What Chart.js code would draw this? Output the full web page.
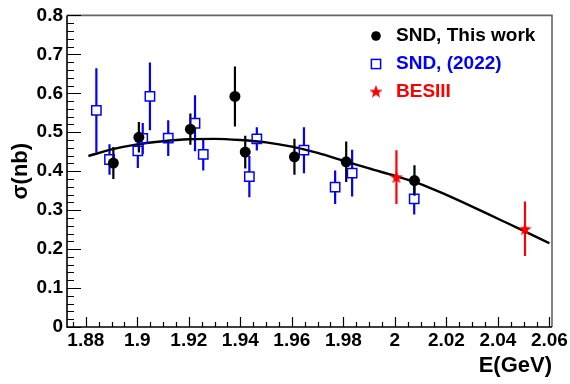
<!DOCTYPE html>
<html><head><meta charset="utf-8">
<script src="https://cdn.jsdelivr.net/npm/chart.js@4.4.1/dist/chart.umd.min.js"></script>
<style>html,body{margin:0;padding:0;background:#fff;}canvas{display:block;}</style>
</head><body>
<canvas id="c" width="570" height="384"></canvas>
<script>
// ---- data ----
const sndEnergy = [1.8907, 1.9006, 1.9206, 1.9379, 1.9419, 1.9610, 1.9811, 2.0076];
const sndSigma  = [0.421, 0.487, 0.508, 0.592, 0.449, 0.437, 0.424, 0.376];
const sndError  = [0.041, 0.039, 0.040, 0.077, 0.042, 0.046, 0.052, 0.039];

const snd22Energy = [1.8841, 1.8892, 1.9002, 1.9021, 1.9049, 1.9120, 1.9224, 1.9256, 1.9435, 1.9464, 1.9647, 1.9768, 1.9834, 2.0075];
const snd22Sigma  = [0.556, 0.430, 0.452, 0.484, 0.592, 0.485, 0.523, 0.443, 0.386, 0.483, 0.454, 0.359, 0.395, 0.329];
const snd22Error  = [0.108, 0.039, 0.044, 0.040, 0.087, 0.046, 0.072, 0.041, 0.053, 0.030, 0.059, 0.043, 0.060, 0.040];

const besEnergy = [2.0006, 2.0505];
const besSigma  = [0.385, 0.252];
const besError  = [0.069, 0.070];

const fitEnergy = [1.881, 1.89, 1.90, 1.91, 1.92, 1.93, 1.94, 1.95, 1.96, 1.97, 1.98, 1.99, 2.00, 2.01, 2.02, 2.03, 2.04, 2.05, 2.06];
const fitSigma  = [0.439, 0.456, 0.469, 0.477, 0.482, 0.483, 0.480, 0.474, 0.463, 0.447, 0.427, 0.407, 0.388, 0.367, 0.339, 0.309, 0.278, 0.247, 0.215];

const xTickValues = [1.88, 1.9, 1.92, 1.94, 1.96, 1.98, 2, 2.02, 2.04, 2.06];
const xTickLabels = ['1.88', '1.9', '1.92', '1.94', '1.96', '1.98', '2', '2.02', '2.04', '2.06'];
const yTickValues = [0, 0.1, 0.2, 0.3, 0.4, 0.5, 0.6, 0.7, 0.8];
const yTickLabels = ['0', '0.1', '0.2', '0.3', '0.4', '0.5', '0.6', '0.7', '0.8'];

const legendLabels = ['SND, This work', 'SND, (2022)', 'BESIII'];
const seriesColors = ['#000000', '#0000ff', '#ff0000'];
const xTitle = 'E(GeV)';
const yTitle = 'σ(nb)';

// ---- helpers ----
const FONT = '"Liberation Sans", Arial, Helvetica, sans-serif';
function toPoints(xs, ys) { return xs.map((v, i) => ({x: v, y: ys[i]})); }

function makeStar(size, color) {
  const c = document.createElement('canvas');
  c.width = size; c.height = size;
  const g = c.getContext('2d');
  const cx = size / 2, cy = size / 2 + size * 0.04, R = size / 2, r = R * 0.4;
  g.beginPath();
  for (let k = 0; k < 10; k++) {
    const a = -Math.PI / 2 + k * Math.PI / 5;
    const rr = k % 2 === 0 ? R : r;
    const px = cx + rr * Math.cos(a), py = cy + rr * Math.sin(a);
    if (k === 0) g.moveTo(px, py); else g.lineTo(px, py);
  }
  g.closePath();
  g.fillStyle = color; g.fill();
  return c;
}
const starImg = makeStar(14, seriesColors[2]);
const SQUARE_R = 6.6;
const SQUARE_HALF = SQUARE_R * Math.SQRT1_2;

const rootStyle = {
  id: 'rootStyle',
  beforeDatasetsDraw(chart) {
    const {ctx, scales: {x, y}} = chart;
    const groups = [
      {xs: snd22Energy, ys: snd22Sigma, es: snd22Error, color: seriesColors[1], gap: SQUARE_HALF},
      {xs: besEnergy, ys: besSigma, es: besError, color: seriesColors[2], gap: 0},
      {xs: sndEnergy, ys: sndSigma, es: sndError, color: seriesColors[0], gap: 0}
    ];
    ctx.save();
    ctx.lineWidth = 2.2;
    groups.forEach(g => {
      ctx.strokeStyle = g.color;
      g.xs.forEach((e, i) => {
        const px = x.getPixelForValue(e);
        const py = y.getPixelForValue(g.ys[i]);
        const top = y.getPixelForValue(g.ys[i] + g.es[i]);
        const bot = y.getPixelForValue(g.ys[i] - g.es[i]);
        ctx.beginPath();
        ctx.moveTo(px, top); ctx.lineTo(px, py - g.gap);
        ctx.moveTo(px, py + g.gap); ctx.lineTo(px, bot);
        ctx.stroke();
      });
    });
    ctx.restore();
  },
  afterDraw(chart) {
    const {ctx, chartArea: a, scales: {x, y}} = chart;
    ctx.save();
    // frame
    ctx.lineWidth = 1.6;
    ctx.strokeStyle = '#666666';
    ctx.beginPath();
    ctx.moveTo(a.left, a.top); ctx.lineTo(a.right, a.top); ctx.lineTo(a.right, a.bottom);
    ctx.stroke();
    ctx.strokeStyle = '#000000';
    ctx.beginPath();
    ctx.moveTo(a.left, a.top); ctx.lineTo(a.left, a.bottom); ctx.lineTo(a.right, a.bottom);
    ctx.stroke();
    // inner ticks
    ctx.lineWidth = 1.2;
    ctx.beginPath();
    for (let k = 0; k <= 40; k++) {
      const py = Math.round(y.getPixelForValue(k * 0.02)) + 0.5;
      const len = k % 5 === 0 ? 14 : 7;
      ctx.moveTo(a.left, py); ctx.lineTo(a.left + len, py);
    }
    for (let k = 375; k <= 412; k++) {
      const px = Math.round(x.getPixelForValue(k * 0.005)) + 0.5;
      const len = k % 4 === 0 ? 10 : 5;
      ctx.moveTo(px, a.bottom); ctx.lineTo(px, a.bottom - len);
    }
    ctx.stroke();
    // legend
    const lx = 376, tx = 396, rows = [36, 64, 91.5];
    ctx.font = 'bold 19px ' + FONT;
    ctx.textBaseline = 'middle';
    ctx.textAlign = 'left';
    legendLabels.forEach((t, i) => {
      const ly = rows[i];
      if (i === 0) {
        ctx.fillStyle = seriesColors[0];
        ctx.beginPath(); ctx.arc(lx, ly, 4.8, 0, Math.PI * 2); ctx.fill();
      } else if (i === 1) {
        ctx.strokeStyle = seriesColors[1]; ctx.lineWidth = 1.5;
        ctx.strokeRect(lx - 4.6, ly - 4.6, 9.2, 9.2);
      } else {
        ctx.drawImage(starImg, lx - 7, ly - 7);
      }
      ctx.fillStyle = seriesColors[i];
      ctx.fillText(t, tx, ly);
    });
    ctx.restore();
  }
};

new Chart(document.getElementById('c'), {
  type: 'scatter',
  data: {
    datasets: [
      {
        label: 'fit', type: 'line', data: toPoints(fitEnergy, fitSigma),
        borderColor: '#000000', borderWidth: 2.4, pointRadius: 0, fill: false,
        cubicInterpolationMode: 'monotone', order: 4
      },
      {
        label: legendLabels[1], data: toPoints(snd22Energy, snd22Sigma),
        pointStyle: 'rect', pointRadius: SQUARE_R, borderColor: seriesColors[1],
        backgroundColor: 'rgba(0,0,0,0)', borderWidth: 1.5, order: 3
      },
      {
        label: legendLabels[2], data: toPoints(besEnergy, besSigma),
        pointStyle: starImg, pointRadius: 7, order: 2
      },
      {
        label: legendLabels[0], data: toPoints(sndEnergy, sndSigma),
        pointStyle: 'circle', pointRadius: 5.5, backgroundColor: seriesColors[0],
        borderColor: seriesColors[0], borderWidth: 0, order: 1
      }
    ]
  },
  options: {
    responsive: false,
    animation: false,
    events: [],
    layout: {padding: {top: 9, right: 15, left: 0, bottom: 0}},
    plugins: {legend: {display: false}, tooltip: {enabled: false}},
    scales: {
      x: {
        type: 'linear', min: 1.8727, max: 2.061,
        afterFit: s => { s.height = 57; },
        afterBuildTicks: s => { s.ticks = xTickValues.map(v => ({value: v})); },
        ticks: {
          callback: v => xTickLabels[xTickValues.indexOf(v)],
          color: '#000', padding: 2, maxRotation: 0, autoSkip: false,
          font: {family: FONT, size: 19, weight: 'bold'}
        },
        grid: {display: false, drawTicks: false},
        border: {display: false},
        title: {
          display: true, text: xTitle, align: 'end', color: '#000',
          font: {family: FONT, size: 22, weight: 'bold'}, padding: {top: 0, bottom: 5}
        }
      },
      y: {
        type: 'linear', min: 0, max: 0.8,
        afterFit: s => { s.width = 67; },
        afterBuildTicks: s => { s.ticks = yTickValues.map(v => ({value: v})); },
        ticks: {
          callback: v => yTickLabels[yTickValues.indexOf(v)],
          color: '#000', padding: 4, autoSkip: false,
          font: {family: FONT, size: 19, weight: 'bold'}
        },
        grid: {display: false, drawTicks: false},
        border: {display: false},
        title: {
          display: true, text: yTitle, color: '#000',
          font: {family: FONT, size: 22, weight: 'bold'}, padding: {top: 8, bottom: 0}
        }
      }
    }
  },
  plugins: [rootStyle]
});
</script>
</body></html>
